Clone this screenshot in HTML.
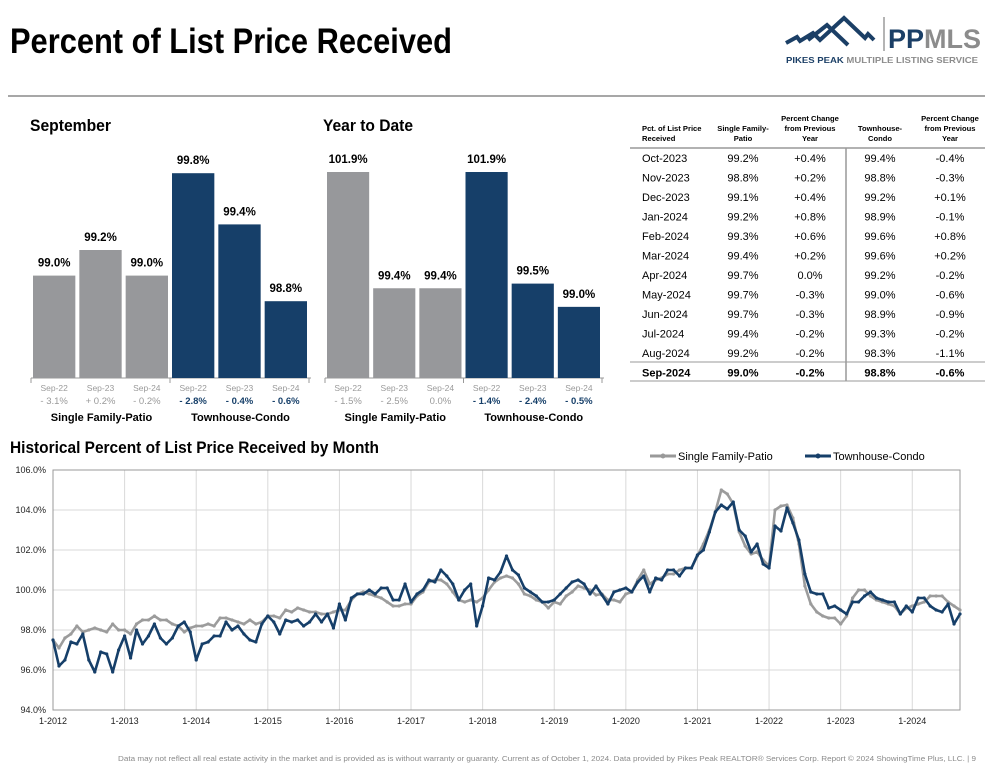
<!DOCTYPE html>
<html><head><meta charset="utf-8"><style>
html,body{margin:0;padding:0;background:#fff;}
svg{display:block;font-family:"Liberation Sans",sans-serif;}
</style></head><body>
<svg id="s" width="992" height="781" viewBox="0 0 992 781" xmlns="http://www.w3.org/2000/svg">
<text x="10" y="53" font-size="35" font-weight="bold" fill="#000" style="font-family:'Liberation Sans Narrow','Liberation Sans',sans-serif" textLength="442" lengthAdjust="spacingAndGlyphs">Percent of List Price Received</text>
<g>
<polyline points="786,43 797,37 800,41 813,33 820,40 844,18 865,38 868,34 874,40" fill="none" stroke="#1b3f66" stroke-width="4"/>
<polyline points="808,40 827,25 848,45" fill="none" stroke="#1b3f66" stroke-width="4"/>
<line x1="884" y1="17" x2="884" y2="51" stroke="#9a9a9a" stroke-width="1.5"/>
<text x="888" y="48" font-size="27" font-weight="bold" fill="#1b3f66">PP<tspan fill="#8c8c8c">MLS</tspan></text>
<text x="786" y="63" font-size="8.5" font-weight="bold" fill="#1b3f66" textLength="192" lengthAdjust="spacingAndGlyphs">PIKES PEAK <tspan fill="#8c8c8c">MULTIPLE LISTING SERVICE</tspan></text>
</g>
<line x1="8" y1="96" x2="985" y2="96" stroke="#8a8a8a" stroke-width="1.5"/>
<text x="30" y="131" font-size="17" font-weight="bold" textLength="81" lengthAdjust="spacingAndGlyphs">September</text>
<text x="323" y="131" font-size="17" font-weight="bold" textLength="90" lengthAdjust="spacingAndGlyphs">Year to Date</text>
<g id="bars1"></g>
<g id="bars2"></g>
<g id="table"></g>
<text x="10" y="453" font-size="17" font-weight="bold" textLength="369" lengthAdjust="spacingAndGlyphs">Historical Percent of List Price Received by Month</text>
<g>
<g><line x1="650" y1="456" x2="676" y2="456" stroke="#999" stroke-width="3"/><circle cx="663" cy="456" r="2.5" fill="#999"/><text x="678" y="460" font-size="11">Single Family-Patio</text></g>
<g><line x1="805" y1="456" x2="831" y2="456" stroke="#163f69" stroke-width="3"/><circle cx="818" cy="456" r="2.5" fill="#163f69"/><text x="833" y="460" font-size="11">Townhouse-Condo</text></g>
</g>
<g id="line"></g>
<text x="118" y="761" font-size="7.5" fill="#8a8a8a" textLength="858" lengthAdjust="spacingAndGlyphs">Data may not reflect all real estate activity in the market and is provided as is without warranty or guaranty. Current as of October 1, 2024. Data provided by Pikes Peak REALTOR® Services Corp. Report © 2024 ShowingTime Plus, LLC.  |  9</text>
</svg>
<script>
const NS="http://www.w3.org/2000/svg";
function mk(p,t,a,txt){const e=document.createElementNS(NS,t);for(const k in a)e.setAttribute(k,a[k]);if(txt!==undefined)e.textContent=txt;p.appendChild(e);return e;}
const GRAY="#97989b",NAVY="#163f69";

// ---- bar chart data ----
const barYears=["Sep-22","Sep-23","Sep-24"];
const sepSF=[99.0,99.2,99.0];
const sepTH=[99.8,99.4,98.8];
const sepSFchg=["- 3.1%","+ 0.2%","- 0.2%"];
const sepTHchg=["- 2.8%","- 0.4%","- 0.6%"];
const ytdSF=[101.9,99.4,99.4];
const ytdTH=[101.9,99.5,99.0];
const ytdSFchg=["- 1.5%","- 2.5%","0.0%"];
const ytdTHchg=["- 1.4%","- 2.4%","- 0.5%"];

function barChart(g,x0,x1,minV,scale,sf,th,sfc,thc,nm){
  const base=378,step=(x1-x0)/6,bw=step-4;
  mk(g,"line",{x1:x0-1,y1:base,x2:x1+1,y2:base,stroke:"#999","stroke-width":1});
  [0,3,6].forEach(i=>mk(g,"line",{x1:x0-1+i*step,y1:base,x2:x0-1+i*step,y2:base+5,stroke:"#999"}));
  const vals=sf.concat(th),chg=sfc.concat(thc);
  vals.forEach((v,i)=>{
    const x=x0+i*step+1,top=base-(v-minV)*scale;
    const r=mk(g,"rect",{x:x,y:top,width:bw,height:base-top,fill:i<3?GRAY:NAVY});
    
    
    mk(g,"text",{x:x+bw/2,y:top-9,"font-size":11.5,"font-weight":"bold","text-anchor":"middle"},v.toFixed(1)+"%");
    mk(g,"text",{x:x+bw/2,y:391,"font-size":8.5,fill:"#9a9a9a","text-anchor":"middle"},barYears[i%3]);
    mk(g,"text",{x:x+bw/2,y:404,"font-size":9.5,fill:i<3?"#999":NAVY,"font-weight":i<3?"normal":"bold","text-anchor":"middle"},chg[i]);
  });
  mk(g,"text",{x:x0+step*1.5,y:421,"font-size":11,"font-weight":"bold","text-anchor":"middle"},"Single Family-Patio");
  mk(g,"text",{x:x0+step*4.5,y:421,"font-size":11,"font-weight":"bold","text-anchor":"middle"},"Townhouse-Condo");
}
barChart(document.getElementById("bars1"),32,310,98.2,128,sepSF,sepTH,sepSFchg,sepTHchg,"sep");
barChart(document.getElementById("bars2"),326,603,97.47,46.5,ytdSF,ytdTH,ytdSFchg,ytdTHchg,"ytd");

// ---- table ----
const tMonths=["Oct-2023","Nov-2023","Dec-2023","Jan-2024","Feb-2024","Mar-2024","Apr-2024","May-2024","Jun-2024","Jul-2024","Aug-2024","Sep-2024"];
const tSF=["99.2%","98.8%","99.1%","99.2%","99.3%","99.4%","99.7%","99.7%","99.7%","99.4%","99.2%","99.0%"];
const tSFc=["+0.4%","+0.2%","+0.4%","+0.8%","+0.6%","+0.2%","0.0%","-0.3%","-0.3%","-0.2%","-0.2%","-0.2%"];
const tTH=["99.4%","98.8%","99.2%","98.9%","99.6%","99.6%","99.2%","99.0%","98.9%","99.3%","98.3%","98.8%"];
const tTHc=["-0.4%","-0.3%","+0.1%","-0.1%","+0.8%","+0.2%","-0.2%","-0.6%","-0.9%","-0.2%","-1.1%","-0.6%"];
(function(){
  const g=document.getElementById("table");
  const hdr=[[642,"start",["Pct. of List Price","Received"],1],[743,"middle",["Single Family-","Patio"],1],[810,"middle",["Percent Change","from Previous","Year"],0],[880,"middle",["Townhouse-","Condo"],1],[950,"middle",["Percent Change","from Previous","Year"],0]];
  hdr.forEach(h=>h[2].forEach((l,i)=>mk(g,"text",{x:h[0],y:121+(h[3]*10)+i*10,"font-size":7.6,"font-weight":"bold","text-anchor":h[1]},l)));
  mk(g,"line",{x1:630,y1:148,x2:985,y2:148,stroke:"#999","stroke-width":1.5});
  mk(g,"line",{x1:846,y1:148,x2:846,y2:381,stroke:"#999","stroke-width":1.5});
  mk(g,"line",{x1:630,y1:362,x2:985,y2:362,stroke:"#999","stroke-width":1});
  mk(g,"line",{x1:630,y1:381,x2:985,y2:381,stroke:"#999","stroke-width":1});
  tMonths.forEach((m,i)=>{
    const y=162+i*19.5,b=i===11?"bold":"normal";
    const row=mk(g,"g",{});
    
    
    mk(row,"text",{x:642,y:y,"font-size":11,"font-weight":b},m);
    mk(row,"text",{x:743,y:y,"font-size":11,"font-weight":b,"text-anchor":"middle"},tSF[i]);
    mk(row,"text",{x:810,y:y,"font-size":11,"font-weight":b,"text-anchor":"middle"},tSFc[i]);
    mk(row,"text",{x:880,y:y,"font-size":11,"font-weight":b,"text-anchor":"middle"},tTH[i]);
    mk(row,"text",{x:950,y:y,"font-size":11,"font-weight":b,"text-anchor":"middle"},tTHc[i]);
  });
})();

// ---- line chart data (Jan 2012 .. Sep 2024) ----
const yearLabels=["1-2012","1-2013","1-2014","1-2015","1-2016","1-2017","1-2018","1-2019","1-2020","1-2021","1-2022","1-2023","1-2024"];
const yTicks=[94,96,98,100,102,104,106];
const sfSeries=[97.5,97.1,97.6,97.8,98.2,97.9,98.0,98.1,98.0,97.9,98.3,98.0,
98.0,97.8,98.3,98.5,98.5,98.7,98.5,98.5,98.3,98.2,97.9,98.1,
98.2,98.2,98.3,98.2,98.6,98.6,98.5,98.4,98.3,98.5,98.3,98.4,
98.7,98.7,98.6,99.0,98.9,99.1,99.0,98.9,98.9,98.8,98.8,98.9,
99.0,99.0,99.5,99.8,99.9,99.8,99.7,99.6,99.4,99.2,99.2,99.3,
99.3,99.7,99.9,100.4,100.5,100.5,100.3,99.9,99.5,99.4,99.5,99.4,
99.6,100.0,100.4,100.6,100.7,100.6,100.3,99.8,99.7,99.5,99.4,99.1,
99.4,99.3,99.7,99.9,100.2,100.1,100.0,99.75,99.8,99.5,99.5,99.4,
99.8,99.9,100.5,101.0,100.3,100.5,100.6,100.8,100.8,101.0,101.1,101.1,
101.7,102.3,103.0,103.9,105.0,104.8,104.3,102.9,102.2,101.8,101.9,101.5,
101.2,104.0,104.2,104.25,103.6,102.3,100.2,99.3,98.9,98.7,98.6,98.6,
98.3,98.7,99.6,100.0,100.0,99.7,99.5,99.4,99.3,99.2,98.8,99.1,
99.2,99.3,99.4,99.7,99.7,99.7,99.4,99.2,99.0];
const thSeries=[97.5,96.2,96.5,97.4,97.3,97.8,96.5,95.9,96.9,96.8,95.9,97.0,
97.7,96.6,98.0,97.3,97.7,98.3,97.6,97.3,97.6,98.2,98.4,97.9,
96.5,97.3,97.4,97.7,97.7,98.4,98.0,98.2,97.8,97.5,97.4,98.3,
98.7,98.4,97.8,98.5,98.4,98.5,98.2,98.4,98.8,98.4,98.8,98.1,
99.3,98.5,99.6,99.8,99.8,100.0,99.8,100.1,100.1,99.5,99.5,100.3,
99.4,99.8,100.0,100.5,100.4,101.0,100.7,100.3,99.5,100.0,100.3,98.2,
99.2,100.6,100.5,100.9,101.7,101.0,100.75,100.1,99.9,99.7,99.4,99.4,
99.5,99.8,100.1,100.4,100.5,100.3,99.8,100.2,99.75,99.3,99.9,100.0,
100.1,99.9,100.4,100.7,99.9,100.6,100.5,101.0,101.0,100.7,101.1,101.1,
101.75,102.0,102.9,103.9,104.25,104.05,104.4,103.0,102.7,101.9,102.3,101.3,
101.1,103.2,102.95,104.1,103.35,102.5,100.8,99.9,99.8,99.8,99.1,99.2,
99.0,98.8,99.4,99.4,99.7,99.9,99.6,99.5,99.4,99.4,98.8,99.2,
98.9,99.6,99.6,99.2,99.0,98.9,99.3,98.3,98.8];

(function(){
  const g=document.getElementById("line");
  const L=53,R=960,T=470,B=710,minV=94,maxV=106;
  const xS=i=>L+(R-L)*i/152;
  const yS=v=>B-(v-minV)/(maxV-minV)*(B-T);
  yTicks.forEach(v=>{
    mk(g,"line",{x1:L,y1:yS(v),x2:R,y2:yS(v),stroke:"#d9d9d9","stroke-width":1});
    mk(g,"text",{x:46,y:yS(v)+3,"font-size":9,"text-anchor":"end",fill:"#222"},v.toFixed(1)+"%");
  });
  yearLabels.forEach((l,i)=>{
    const x=xS(i*12);
    if(i>0)mk(g,"line",{x1:x,y1:T,x2:x,y2:B,stroke:"#d9d9d9","stroke-width":1});
    mk(g,"text",{x:x,y:724,"font-size":9,"text-anchor":"middle",fill:"#222"},l);
  });
  mk(g,"rect",{x:L,y:T,width:R-L,height:B-T,fill:"none",stroke:"#999","stroke-width":1});
  function series(d,c,nm){
    const pts=d.map((v,i)=>xS(i).toFixed(1)+","+yS(v).toFixed(1)).join(" ");
    const p=mk(g,"polyline",{points:pts,fill:"none",stroke:c,"stroke-width":2.6,"stroke-linejoin":"round"});
    
    
    d.forEach((v,i)=>mk(g,"circle",{cx:xS(i),cy:yS(v),r:1.6,fill:c}));
  }
  series(sfSeries,"#9c9c9c","single-family");
  series(thSeries,NAVY,"townhouse");
})();
</script>
</body></html>
